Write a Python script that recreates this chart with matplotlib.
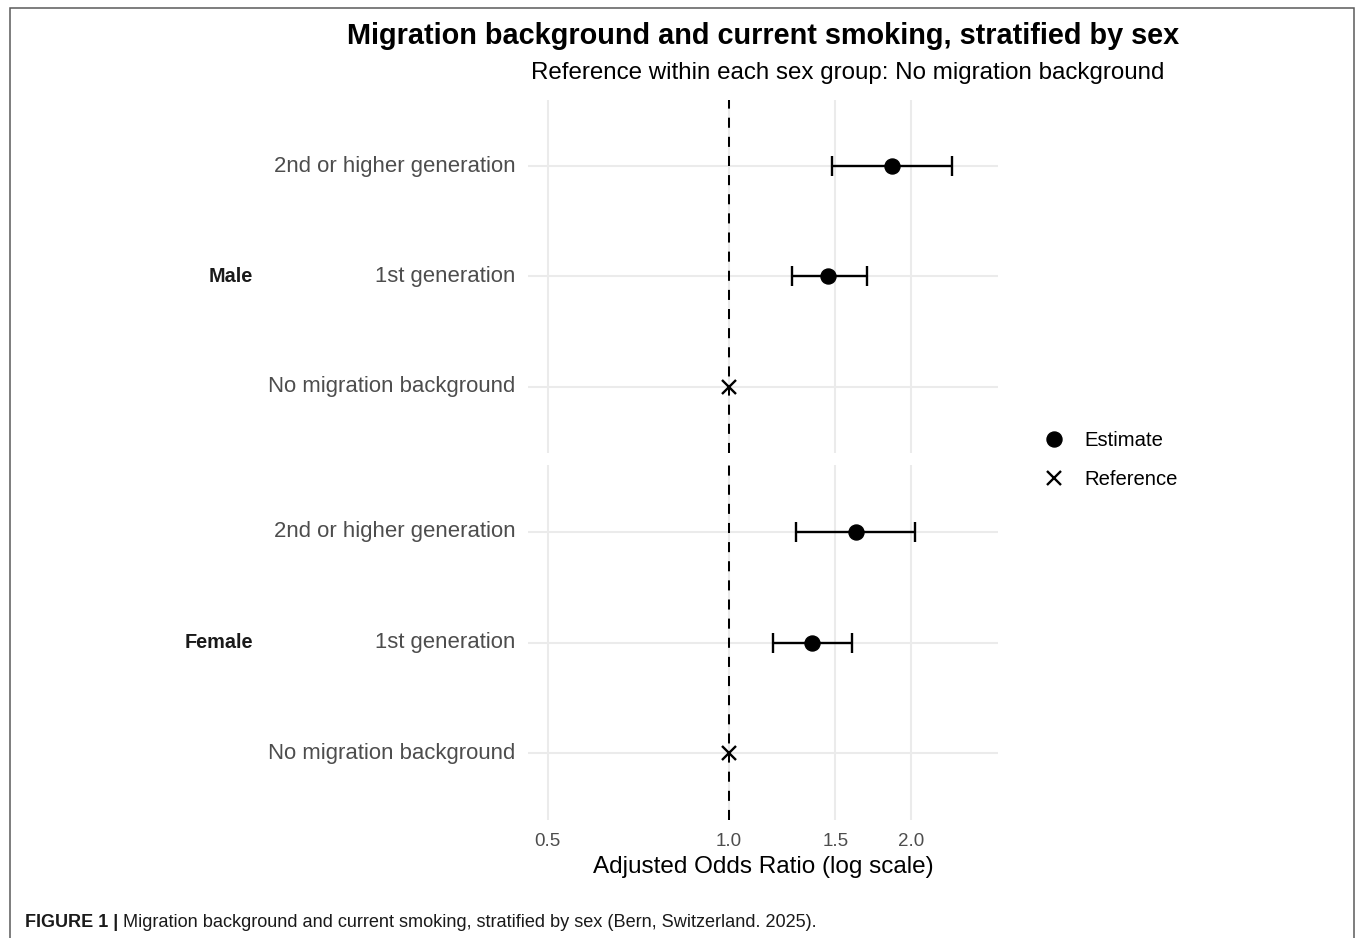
import matplotlib
matplotlib.use("Agg")
import matplotlib.pyplot as plt
from matplotlib.lines import Line2D
from matplotlib.patches import Rectangle
from matplotlib.ticker import NullLocator, FixedLocator, FixedFormatter

plt.rcParams["font.family"] = ["Liberation Sans", "DejaVu Sans"]

# ---- data -------------------------------------------------------------
sexes = ["Male", "Female"]
categories = ["No migration background", "1st generation", "2nd or higher generation"]
is_reference = [True, False, False]

male_or = [1.00, 1.46, 1.86]
male_lo = [1.00, 1.27, 1.48]
male_hi = [1.00, 1.69, 2.34]

female_or = [1.00, 1.37, 1.62]
female_lo = [1.00, 1.18, 1.29]
female_hi = [1.00, 1.60, 2.03]

x_breaks = [0.5, 1.0, 1.5, 2.0]
x_labels = ["0.5", "1.0", "1.5", "2.0"]

title = "Migration background and current smoking, stratified by sex"
subtitle = "Reference within each sex group: No migration background"
x_title = "Adjusted Odds Ratio (log scale)"
caption_head = "FIGURE 1 |"
caption_body = " Migration background and current smoking, stratified by sex (Bern, Switzerland. 2025)."

# ---- layout (pixels) ----------------------------------------------------
W, H = 1355, 938
DPI = 100
fig = plt.figure(figsize=(W / DPI, H / DPI), dpi=DPI)
fig.patch.set_facecolor("white")


def px_axes(x0, y0, x1, y1):
    return fig.add_axes([x0 / W, 1 - y1 / H, (x1 - x0) / W, (y1 - y0) / H])


panels = [
    (px_axes(528, 100, 998, 453), "Male", male_or, male_lo, male_hi),
    (px_axes(528, 465, 998, 820), "Female", female_or, female_lo, female_hi),
]

grid_col = "#EBEBEB"
tick_col = "#4D4D4D"
ypos = [1, 2, 3]

for i, (ax, sex, est, lo, hi) in enumerate(panels):
    ax.set_xscale("log")
    ax.set_xlim(0.464, 2.79)
    ax.set_ylim(0.4, 3.6)
    for s in ax.spines.values():
        s.set_visible(False)
    ax.set_facecolor("white")

    ax.xaxis.set_major_locator(FixedLocator(x_breaks))
    ax.xaxis.set_minor_locator(NullLocator())
    ax.set_yticks(ypos)
    ax.set_yticklabels(categories)
    ax.tick_params(axis="y", length=0, pad=9, labelsize=15.9, labelcolor=tick_col)
    ax.tick_params(axis="x", length=0, pad=9, labelsize=13.5, labelcolor=tick_col)
    for lab in ax.get_yticklabels():
        lab.set_verticalalignment("center")
        lab.set_y(lab.get_position()[1])
    if i == 0:
        ax.set_xticklabels([])
    else:
        ax.xaxis.set_major_formatter(FixedFormatter(x_labels))
        ax.set_xlabel(x_title, fontsize=17.5, color="black", labelpad=5)

    ax.grid(True, color=grid_col, linewidth=1.5)
    ax.set_axisbelow(True)

    ax.axvline(1.0, color="black", linewidth=1.45, dashes=(5, 4.5), zorder=2)

    for y, e, l, h, ref in zip(ypos, est, lo, hi, is_reference):
        if ref:
            ax.plot([e], [y], marker="x", markersize=10.5, markeredgewidth=1.7,
                    color="black", linestyle="none", zorder=4)
        else:
            ax.errorbar([e], [y], xerr=[[e - l], [h - e]], fmt="o", color="black",
                        markersize=10.8, elinewidth=1.7, capsize=7.2, capthick=1.7,
                        zorder=4)

    ax.annotate(sex, xy=(0, 0.5), xycoords="axes fraction", xytext=(-275, 0),
                textcoords="offset pixels", ha="right", va="center",
                fontsize=14.3, fontweight="bold", color="#1A1A1A")

# ---- titles -------------------------------------------------------------
fig.text(763 / W, 1 - 36 / H, title, ha="center", va="center",
         fontsize=20.8, fontweight="bold")
fig.text(848 / W, 1 - 73 / H, subtitle, ha="center", va="center", fontsize=17.4)

# ---- legend -------------------------------------------------------------
handles = [
    Line2D([], [], marker="o", color="black", linestyle="none", markersize=10.8),
    Line2D([], [], marker="x", color="black", linestyle="none", markersize=10.5,
           markeredgewidth=1.7),
]
fig.legend(handles, ["Estimate", "Reference"], loc="center left",
           bbox_to_anchor=(1032 / W, 1 - 460 / H), frameon=False, fontsize=14.6,
           handlelength=1.2, handletextpad=0.9, labelspacing=0.98, borderpad=0)

# ---- frame and caption --------------------------------------------------
fig.patches.append(Rectangle((9.5 / W, -0.05), (1353.5 - 9.5) / W, 1.05 - 8.5 / H,
                             transform=fig.transFigure, fill=False,
                             edgecolor="#5A5A5A", linewidth=1.1))
head = fig.text(25 / W, 1 - 922 / H, caption_head, ha="left", va="center",
                fontsize=13, fontweight="bold", color="#1A1A1A")
fig.canvas.draw()
body_x = head.get_window_extent().x1 / W
fig.text(body_x, 1 - 922 / H, caption_body, ha="left", va="center",
         fontsize=13.1, color="#1A1A1A")

fig.savefig("out.png", dpi=DPI, facecolor="white")
